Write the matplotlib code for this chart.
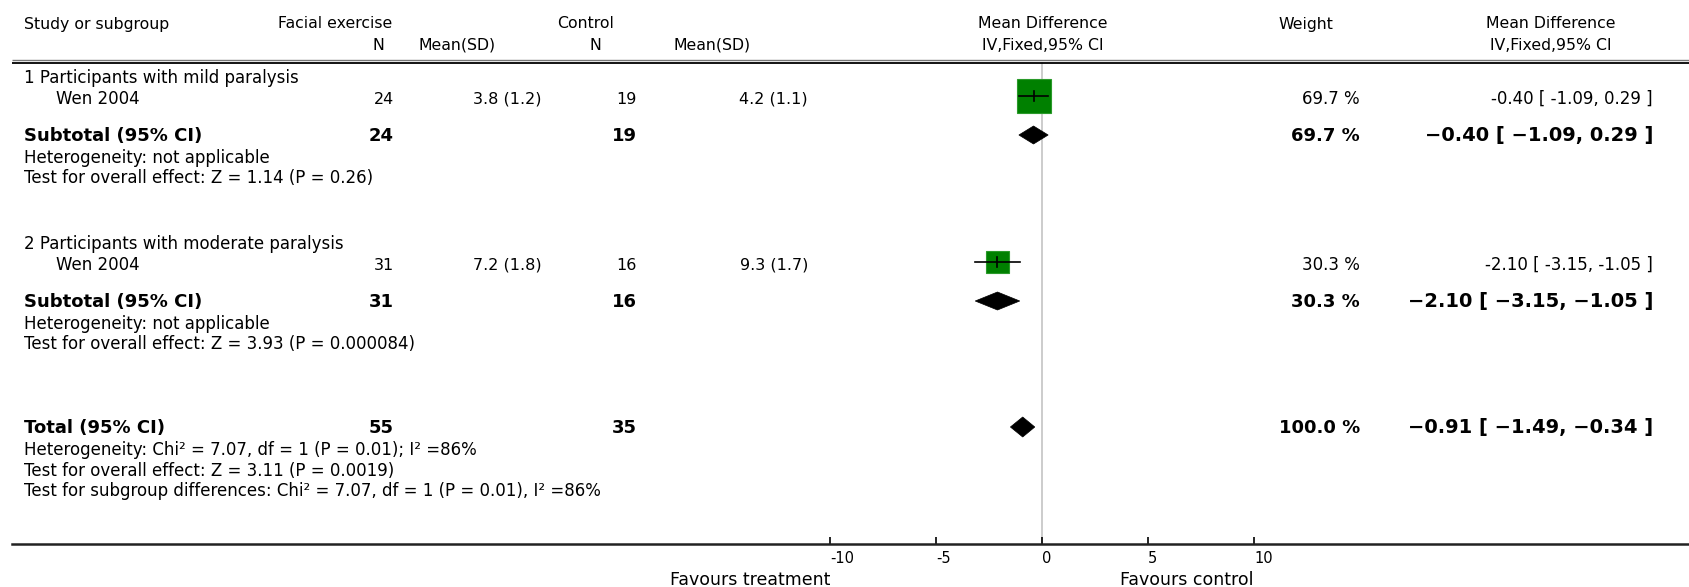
import numpy as np
import matplotlib
matplotlib.use("Agg")
import matplotlib.pyplot as plt
from matplotlib.patches import Rectangle, Polygon
from matplotlib.transforms import blended_transform_factory

plt.rcParams['font.family'] = ['DejaVu Sans']

################## DATA ######################
subgroups = ["1 Participants with mild paralysis", "2 Participants with moderate paralysis"]
studies = ["Wen 2004", "Wen 2004"]
n_fe = [24, 31]
mean_fe = [3.8, 7.2]
sd_fe = [1.2, 1.8]
n_ct = [19, 16]
mean_ct = [4.2, 9.3]
sd_ct = [1.1, 1.7]
md = [-0.40, -2.10]
md_lo = [-1.09, -3.15]
md_hi = [0.29, -1.05]
weight = [69.7, 30.3]
sub_z = ["1.14", "3.93"]
sub_p = ["0.26", "0.000084"]

tot_n_fe, tot_n_ct = 55, 35
tot_md, tot_lo, tot_hi, tot_w = -0.91, -1.49, -0.34, 100.0
tot_het = "Heterogeneity: Chi² = 7.07, df = 1 (P = 0.01); I² =86%"
tot_test = "Test for overall effect: Z = 3.11 (P = 0.0019)"
sub_diff = "Test for subgroup differences: Chi² = 7.07, df = 1 (P = 0.01), I² =86%"
xticks = [-10, -5, 0, 5, 10]

################## LAYOUT ####################
W, H = 1690, 587
X0, PX_PER_UNIT = 1042, 21.2   # pixel of zero line, pixels per MD unit
AX_LEFT = 12
FS_HEAD, FS_BODY, FS_NUM, FS_BOLD, FS_BOLDCI = 11.3, 12, 11.5, 13, 14

fig = plt.figure(figsize=(W / 100, H / 100), dpi=100)
ax = fig.add_axes([AX_LEFT / W, 0, 1 - AX_LEFT / W, 1])
ax.set_xlim((AX_LEFT - X0) / PX_PER_UNIT, (W - X0) / PX_PER_UNIT)
ax.set_ylim(H, 0)
tr = blended_transform_factory(fig.transFigure, ax.transData)


def txt(x, y, s, ha="left", size=FS_BODY, bold=False):
    ax.text(x / W, y, s, transform=tr, ha=ha, va="center", fontsize=size,
            fontweight="bold" if bold else "normal", color="black")


def fmt_ci(m, l, h, bold=False):
    s = f"{m:.2f} [ {l:.2f}, {h:.2f} ]"
    return s.replace("-", "\u2212") if bold else s


# header
txt(24, 24, "Study or subgroup", size=FS_HEAD)
txt(278, 24, "Facial exercise", size=FS_HEAD)
txt(384, 45, "N", ha="right", size=FS_HEAD)
txt(496, 45, "Mean(SD)", ha="right", size=FS_HEAD)
txt(557, 24, "Control", size=FS_HEAD)
txt(601, 45, "N", ha="right", size=FS_HEAD)
txt(751, 45, "Mean(SD)", ha="right", size=FS_HEAD)
txt(1043, 24, "Mean Difference", ha="center", size=FS_HEAD)
txt(1043, 45, "IV,Fixed,95% CI", ha="center", size=FS_HEAD)
txt(1306, 24, "Weight", ha="center", size=FS_HEAD)
txt(1551, 24, "Mean Difference", ha="center", size=FS_HEAD)
txt(1551, 45, "IV,Fixed,95% CI", ha="center", size=FS_HEAD)

xl = ax.get_xlim()
ax.plot(xl, [60, 60], color="#777777", lw=1.0, solid_capstyle="butt")
ax.plot(xl, [62.5, 62.5], color="black", lw=1.3, solid_capstyle="butt")

# zero line
ax.plot([0, 0], [63, 544], color="#c8c8c8", lw=1.3, zorder=0)

# subgroups
grp_y = [78, 244]
sq_max = 34
for i in range(len(subgroups)):
    y0 = grp_y[i]
    txt(24, y0, subgroups[i])
    ys = y0 + 21
    txt(56, ys, studies[i])
    txt(394, ys, str(n_fe[i]), ha="right", size=FS_NUM)
    txt(542, ys, f"{mean_fe[i]} ({sd_fe[i]})", ha="right", size=FS_NUM)
    txt(637, ys, str(n_ct[i]), ha="right", size=FS_NUM)
    txt(808, ys, f"{mean_ct[i]} ({sd_ct[i]})", ha="right", size=FS_NUM)
    txt(1360, ys, f"{weight[i]} %", ha="right")
    txt(1653, ys, fmt_ci(md[i], md_lo[i], md_hi[i]), ha="right")

    # study square + CI
    s = sq_max * np.sqrt(weight[i] / max(weight))
    yq = ys - 3
    ax.add_patch(Rectangle((md[i] - s / 2 / PX_PER_UNIT, yq - s / 2), s / PX_PER_UNIT, s,
                           facecolor="#008000", edgecolor="#2a9a2a", lw=0.8, zorder=2))
    ax.plot([md_lo[i], md_hi[i]], [yq, yq], color="black", lw=1.2, zorder=3)
    ax.plot([md[i], md[i]], [yq - 5, yq + 5], color="black", lw=1.2, zorder=3)

    # subtotal
    yt = y0 + 58
    txt(24, yt, "Subtotal (95% CI)", size=FS_BOLD, bold=True)
    txt(394, yt, str(n_fe[i]), ha="right", size=FS_BOLD, bold=True)
    txt(637, yt, str(n_ct[i]), ha="right", size=FS_BOLD, bold=True)
    txt(1360, yt, f"{weight[i]} %", ha="right", size=FS_BOLD, bold=True)
    txt(1653, yt, fmt_ci(md[i], md_lo[i], md_hi[i], bold=True), ha="right", size=FS_BOLDCI, bold=True)
    yd = yt - 1
    ax.add_patch(Polygon([(md_lo[i], yd), (md[i], yd - 9), (md_hi[i], yd), (md[i], yd + 9)],
                         closed=True, facecolor="black", edgecolor="black", lw=0.5, zorder=3))
    txt(24, yt + 22, "Heterogeneity: not applicable")
    txt(24, yt + 42, f"Test for overall effect: Z = {sub_z[i]} (P = {sub_p[i]})")

# total
yT = 428
txt(24, yT, "Total (95% CI)", size=FS_BOLD, bold=True)
txt(394, yT, str(tot_n_fe), ha="right", size=FS_BOLD, bold=True)
txt(637, yT, str(tot_n_ct), ha="right", size=FS_BOLD, bold=True)
txt(1360, yT, f"{tot_w:.1f} %", ha="right", size=FS_BOLD, bold=True)
txt(1653, yT, fmt_ci(tot_md, tot_lo, tot_hi, bold=True), ha="right", size=FS_BOLDCI, bold=True)
yd = yT - 1
ax.add_patch(Polygon([(tot_lo, yd), (tot_md, yd - 10), (tot_hi, yd), (tot_md, yd + 10)],
                     closed=True, facecolor="black", edgecolor="black", lw=0.5, zorder=3))
txt(24, yT + 22, tot_het)
txt(24, yT + 43, tot_test)
txt(24, yT + 63, sub_diff)

# axis
for side in ["top", "left", "right"]:
    ax.spines[side].set_visible(False)
ax.spines["bottom"].set_position(("data", 544))
ax.spines["bottom"].set_linewidth(1.8)
ax.spines["bottom"].set_color("#222222")
ax.set_yticks([])
ax.set_xticks(xticks)
ax.set_xticklabels([str(t) for t in xticks])
ax.tick_params(axis="x", direction="in", length=5, width=1.2, pad=5, labelsize=10.5)
for lab in ax.get_xticklabels():
    lab.set_horizontalalignment("left")
ax.text(-10, 580, "Favours treatment", ha="right", va="center", fontsize=12.5)
ax.text(10, 580, "Favours control", ha="right", va="center", fontsize=12.5)

fig.savefig("out.png", dpi=100, facecolor="white")
